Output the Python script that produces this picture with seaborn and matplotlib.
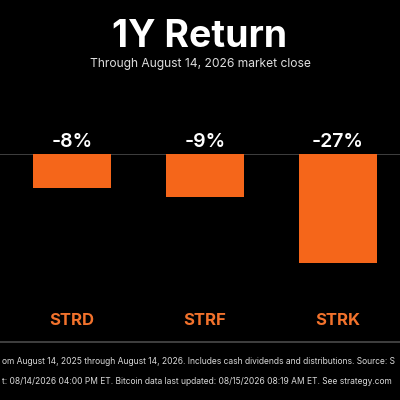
import matplotlib
matplotlib.use("Agg")
import matplotlib.pyplot as plt
import seaborn as sns
import pandas as pd

# data
tickers = ["STRD", "STRF", "STRK"]
returns_pct = [-8.4, -10.6, -27.0]      # bar lengths as drawn
return_labels = ["-8%", "-9%", "-27%"]  # labels as printed

title = "1Y Return"
subtitle = "Through August 14, 2026 market close"
# the footnotes are cropped in the source image; keep what is visible
note_1 = ("om August 14, 2025 through August 14, 2026. "
          "Includes cash dividends and distributions. Source: S")
note_2 = ("t: 08/14/2026 04:00 PM ET. Bitcoin data last updated: "
          "08/15/2026 08:19 AM ET. See strategy.com")

BG = "#000000"
ORANGE = "#f5661a"
LABEL_ORANGE = "#f2722c"
GRID = "#4a4a4a"

sns.set_theme(style="dark")
plt.rcParams["font.family"] = ["Inter", "DejaVu Sans"]

df = pd.DataFrame({"ticker": tickers, "ret": returns_pct})

fig = plt.figure(figsize=(4, 4), dpi=100, facecolor=BG)
# axes top sits on the zero line (y=154px), 30% spans ~121px
ax = fig.add_axes([0, 0.3125, 1, 0.3025])
ax.set_facecolor(BG)

sns.barplot(data=df, x="ticker", y="ret", color=ORANGE, width=0.59,
            saturation=1, linewidth=0, ax=ax)

ax.set_xlim(-0.541, 2.466)
ax.set_ylim(-30, 0)
ax.axhline(0, color=GRID, lw=1.2, zorder=0)
for s in ax.spines.values():
    s.set_visible(False)
ax.set_xticks([])
ax.set_yticks([])
ax.set_xlabel("")
ax.set_ylabel("")
ax.grid(False)

# value labels above the zero line
for i, lab in enumerate(return_labels):
    ax.annotate(lab, (i, 0), xytext=(0, 2.5), textcoords="offset points",
                ha="center", va="bottom", color="white", fontsize=14,
                fontweight="semibold")

# ticker labels below
for i, t in enumerate(tickers):
    ax.annotate(t, (i, -30), xytext=(0, -33), textcoords="offset points",
                ha="center", va="center", color=LABEL_ORANGE, fontsize=12,
                fontweight="bold")

fig.text(0.5, 1 - 37 / 400, title, ha="center", va="center", color="white",
         fontsize=27, fontweight="bold")
fig.text(0.5, 1 - 64 / 400, subtitle, ha="center", va="center",
         color="#dddddd", fontsize=8.7)

# separator above the footnotes
fig.add_artist(plt.Line2D([0, 1], [1 - 342 / 400] * 2, color=GRID, lw=1.2))

# footnotes: size them so they run edge to edge like the crop
renderer = fig.canvas.get_renderer()
size = 10
for note in (note_1, note_2):
    probe = fig.text(0, 0, note, fontsize=10)
    w = probe.get_window_extent(renderer).width
    probe.remove()
    size = min(size, 10 * 396 / w)
for note, ypx in [(note_1, 361), (note_2, 381)]:
    fig.text(2 / 400, 1 - ypx / 400, note, ha="left", va="center",
             color="#d8d8d8", fontsize=size)

fig.savefig("out.png", dpi=100, facecolor=BG)
